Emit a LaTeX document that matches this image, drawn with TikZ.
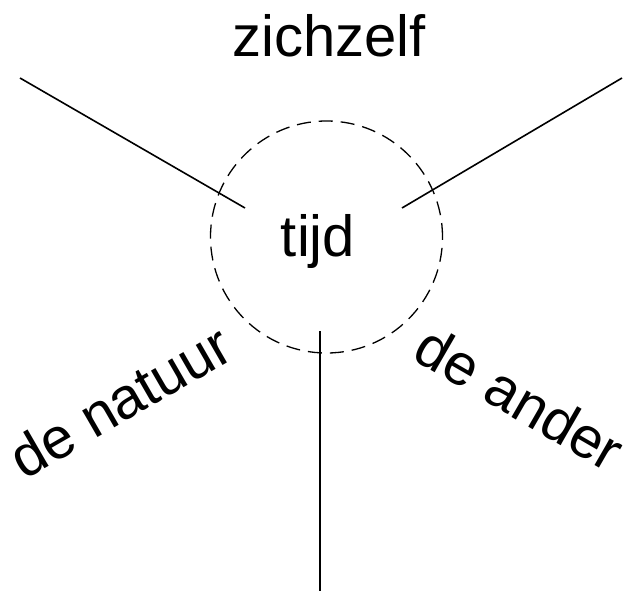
\documentclass[tikz,border=0pt]{standalone}
\usepackage{fontspec}
\setmainfont{Liberation Sans}
\begin{document}
\begin{tikzpicture}[x=1pt,y=-1pt,
  label/.style={font=\fontsize{58}{68}\selectfont, inner sep=0pt},
  spoke/.style={line width=1.6pt, line cap=butt},
  ring/.style={circle, draw, dashed, line width=1.3pt, dash pattern=on 14pt off 8pt, minimum size=232pt, inner sep=0pt}]
  \useasboundingbox (0,0) rectangle (632,592);
  % central dashed circle with its label
  \node[ring] (ring) at (326.5,237) {};
  \node[label, anchor=base] (tijd) at (318,256) {tijd};
  % three spokes
  \coordinate (a1) at (20,78);
  \coordinate (a2) at (245,208);
  \coordinate (b1) at (622,78);
  \coordinate (b2) at (402,208);
  \coordinate (c1) at (320,331);
  \coordinate (c2) at (320,591);
  \draw[spoke] (a1) -- (a2);
  \draw[spoke] (b1) -- (b2);
  \draw[spoke, line width=2.2pt] (c1) -- (c2);
  % labels between the spokes
  \node[label, anchor=base] (zichzelf) at (329,56) {zichzelf};
  \node[label, rotate=30] (natuur) at (120,401) {de natuur};
  \node[label, rotate=-30] (ander) at (520,398) {de ander};
\end{tikzpicture}
\end{document}
